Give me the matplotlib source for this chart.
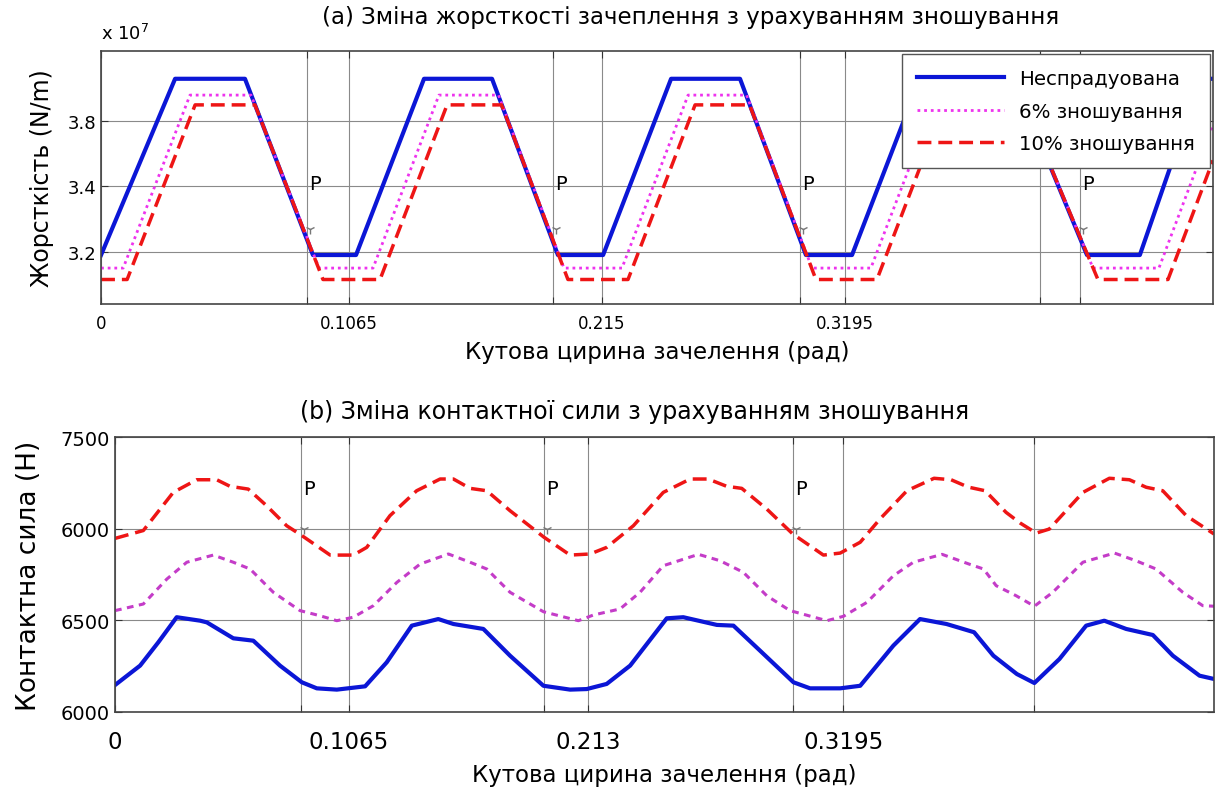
import matplotlib
matplotlib.use("Agg")
import matplotlib.pyplot as plt

# ---- (a) mesh stiffness, x in rad, stiffness in 1e7 N/m ----
x_top_blue = [0, 0.0318, 0.0618, 0.0910, 0.1095, 0.1387, 0.1679, 0.1962, 0.2156,
              0.2448, 0.2744, 0.3027, 0.3225, 0.3517, 0.3920, 0.4234, 0.4461, 0.4723, 0.4775]
k_blue = [3.19, 3.73, 3.73, 3.19, 3.19, 3.73, 3.73, 3.19, 3.19,
          3.73, 3.73, 3.19, 3.19, 3.73, 3.73, 3.19, 3.19, 3.73, 3.73]

x_top_pink = [0, 0.0095, 0.0382, 0.0644, 0.0936, 0.1168, 0.1451, 0.1707, 0.1988,
              0.2237, 0.2521, 0.2772, 0.3053, 0.3306, 0.3590, 0.3950, 0.4260, 0.4543, 0.4775]
k_pink = [3.15, 3.15, 3.68, 3.68, 3.15, 3.15, 3.68, 3.68, 3.15,
          3.15, 3.68, 3.68, 3.15, 3.15, 3.68, 3.68, 3.15, 3.15, 3.59]

x_top_red = [0, 0.0112, 0.0404, 0.0661, 0.0953, 0.1198, 0.1486, 0.1720, 0.2005,
             0.2263, 0.2551, 0.2785, 0.3070, 0.3332, 0.3620, 0.3966, 0.4281, 0.4582, 0.4775]
k_red = [3.115, 3.115, 3.65, 3.65, 3.115, 3.115, 3.65, 3.65, 3.115,
         3.115, 3.65, 3.65, 3.115, 3.115, 3.65, 3.65, 3.115, 3.115, 3.48]

# ---- (b) contact force ----
x_bot_red = [0, 0.0123, 0.0253, 0.0355, 0.0442, 0.0500, 0.0579, 0.0659, 0.0746, 0.0809,
             0.0935, 0.1036, 0.1094, 0.1195, 0.1311, 0.1413, 0.1471, 0.1543, 0.1616, 0.1717,
             0.1865, 0.1978, 0.2065, 0.2137, 0.2253, 0.2383, 0.2500, 0.2578, 0.2659, 0.2724,
             0.2833, 0.2946, 0.3079, 0.3152, 0.3239, 0.3325, 0.3442, 0.3560, 0.3634, 0.3708,
             0.3782, 0.3873, 0.3934, 0.4004, 0.4061, 0.4207, 0.4322, 0.4409, 0.4482, 0.4554,
             0.4656, 0.4777]
f_red = [6947, 6990, 7198, 7267, 7267, 7231, 7216, 7125, 7016, 6965,
         6856, 6856, 6898, 7071, 7207, 7271, 7271, 7220, 7207, 7098,
         6953, 6856, 6862, 6898, 7016, 7198, 7271, 7271, 7231, 7220,
         7107, 6971, 6856, 6867, 6926, 7053, 7207, 7275, 7267, 7227,
         7207, 7089, 7031, 6976, 6998, 7198, 7275, 7267, 7226, 7207,
         7071, 6971]

x_bot_pink = [0, 0.0123, 0.0225, 0.0312, 0.0427, 0.0514, 0.0587, 0.0688, 0.0804, 0.0891,
              0.0964, 0.1036, 0.1123, 0.1225, 0.1326, 0.1449, 0.1543, 0.1616, 0.1717, 0.1862,
              0.2014, 0.2079, 0.2195, 0.2282, 0.2383, 0.2536, 0.2630, 0.2731, 0.2833, 0.2934,
              0.3094, 0.3166, 0.3268, 0.3383, 0.3470, 0.3595, 0.3712, 0.3775, 0.3830, 0.3917,
              0.3996, 0.4076, 0.4207, 0.4344, 0.4438, 0.4525, 0.4641, 0.4728, 0.4777]
f_pink = [6553, 6589, 6725, 6817, 6856, 6817, 6780, 6653, 6553, 6525,
          6498, 6517, 6580, 6707, 6807, 6862, 6817, 6780, 6653, 6547,
          6498, 6529, 6562, 6653, 6798, 6860, 6825, 6762, 6634, 6553,
          6498, 6522, 6598, 6743, 6817, 6860, 6807, 6780, 6689, 6634,
          6577, 6653, 6817, 6867, 6825, 6780, 6653, 6580, 6577]

x_bot_blue = [0, 0.0109, 0.0188, 0.0268, 0.0370, 0.0399, 0.0514, 0.0601, 0.0717, 0.0812,
              0.0877, 0.0964, 0.1087, 0.1181, 0.1290, 0.1405, 0.1471, 0.1601, 0.1717, 0.1862,
              0.1978, 0.2050, 0.2137, 0.2239, 0.2398, 0.2470, 0.2616, 0.2688, 0.2804, 0.2949,
              0.3021, 0.3152, 0.3239, 0.3383, 0.3499, 0.3614, 0.3734, 0.3818, 0.3920, 0.3996,
              0.4105, 0.4221, 0.4300, 0.4395, 0.4511, 0.4598, 0.4714, 0.4777]
f_blue = [6147, 6253, 6380, 6517, 6498, 6489, 6402, 6389, 6253, 6162,
          6129, 6122, 6140, 6271, 6471, 6507, 6480, 6453, 6307, 6143,
          6122, 6125, 6153, 6253, 6511, 6517, 6475, 6471, 6334, 6162,
          6129, 6129, 6143, 6362, 6507, 6480, 6435, 6307, 6207, 6158,
          6289, 6471, 6498, 6453, 6420, 6307, 6198, 6180]

labels = ["Неспрадуована", "6% зношування", "10% зношування"]

# tick positions / labels as shown on the picture
p_top = [0.0885, 0.1941, 0.3002, 0.4204]
xt_top = [0, 0.1065, 0.215, 0.3195, 0.4032]
xt_top_lab = ["0", "0.1065", "0.215", "0.3195", ""]
yt_top = [3.2, 3.4, 3.6]
yt_top_lab = ["3.2", "3.4", "3.8"]

p_bot = [0.0809, 0.1865, 0.2947]
xt_bot = [0, 0.1017, 0.2056, 0.3165, 0.3996]
xt_bot_lab = ["0", "0.1065", "0.213", "0.3195", ""]
yt_bot = [6000, 6500, 7000, 7500]
yt_bot_lab = ["6000", "6500", "6000", "7500"]

blue = "#0b16d6"
pink = "#ee33ee"
pink2 = "#c43cc8"
red = "#ee1515"

fig = plt.figure(figsize=(12.16, 8.03), dpi=100)
ax1 = fig.add_axes([0.0831, 0.6202, 0.9144, 0.3150])
ax2 = fig.add_axes([0.0946, 0.1121, 0.9038, 0.3424])

# ---------- (a) ----------
ax1.plot(x_top_blue, k_blue, color=blue, lw=3, label=labels[0])
ax1.plot(x_top_pink, k_pink, color=pink, lw=2, ls=(0, (1, 1.4)), label=labels[1])
ax1.plot(x_top_red, k_red, color=red, lw=2.5, ls=(0, (4, 2)), label=labels[2])
for p in p_top:
    ax1.text(p + 0.0008, 3.38, "P", fontsize=14, va="bottom")
    ax1.plot(p + 0.0012, 3.27, marker="1", ms=7, color="#777777", mew=1)
ax1.set_xlim(0, 0.4775)
ax1.set_ylim(3.04, 3.815)
ax1.set_xticks(xt_top + p_top)
ax1.set_xticklabels(xt_top_lab + [""] * len(p_top), fontsize=12)
ax1.tick_params(axis="x", pad=7)
ax1.set_yticks(yt_top)
ax1.set_yticklabels(yt_top_lab, fontsize=13)
ax1.set_xlabel("Кутова цирина зачелення (рад)", fontsize=16.5, labelpad=6)
ax1.set_ylabel("Жорсткість (N/m)", fontsize=17)
ax1.yaxis.set_label_coords(-0.042, 0.5)
ax1.text(0.0, 1.03, "x 10$^7$", transform=ax1.transAxes, fontsize=13, va="bottom")
leg = ax1.legend(loc="upper right", fontsize=14.2, handlelength=4.4, fancybox=False,
                 edgecolor="#555555", framealpha=1, borderaxespad=0.15,
                 labelspacing=0.7, borderpad=0.75)
leg.get_frame().set_linewidth(1)

# ---------- (b) ----------
ax2.plot(x_bot_red, f_red, color=red, lw=2.5, ls=(0, (4, 2)))
ax2.plot(x_bot_pink, f_pink, color=pink2, lw=2.2, ls=(0, (2.2, 1.8)))
ax2.plot(x_bot_blue, f_blue, color=blue, lw=3)
for p in p_bot:
    ax2.text(p + 0.0008, 7170, "P", fontsize=14, va="bottom")
    ax2.plot(p + 0.0012, 6998, marker="1", ms=7, color="#777777", mew=1)
ax2.set_xlim(0, 0.4777)
ax2.set_ylim(6000, 7500)
ax2.set_xticks(xt_bot + p_bot)
ax2.set_xticklabels(xt_bot_lab + [""] * len(p_bot), fontsize=16.5)
ax2.tick_params(axis="x", pad=13)
ax2.set_yticks(yt_bot)
ax2.set_yticklabels(yt_bot_lab, fontsize=14)
ax2.set_xlabel("Кутова цирина зачелення (рад)", fontsize=16.5, labelpad=7)
ax2.set_ylabel("Контактна сила (Н)", fontsize=19)
ax2.yaxis.set_label_coords(-0.066, 0.5)

for ax in (ax1, ax2):
    ax.grid(True, color="#8a8a8a", lw=0.8)
    ax.set_axisbelow(True)
    ax.tick_params(direction="in", top=True, right=True, length=5, color="#333333")
    for s in ax.spines.values():
        s.set_color("#444444")
        s.set_linewidth(1.2)

fig.text(0.568, 0.978, "(a) Зміна жорсткості зачеплення з урахуванням зношування",
         ha="center", va="center", fontsize=16.5)
fig.text(0.522, 0.487, "(b) Зміна контактної сили з урахуванням зношування",
         ha="center", va="center", fontsize=17)

fig.savefig("out.png", dpi=100)
